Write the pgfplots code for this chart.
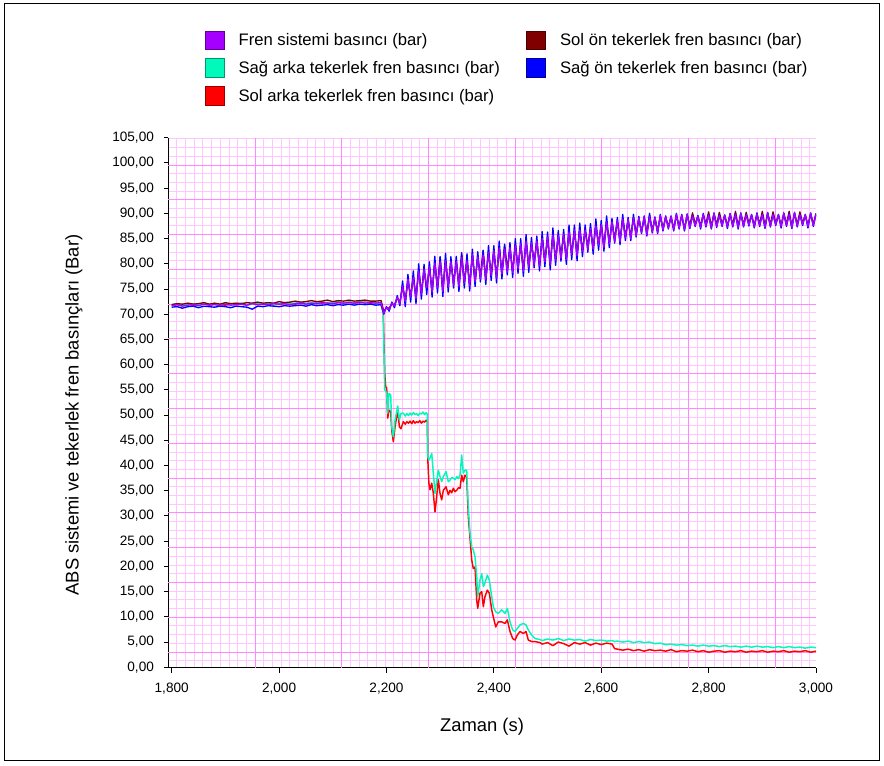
\documentclass[border=0pt]{standalone}
\usepackage{fontspec}
\setmainfont{Liberation Sans}
\usepackage{pgfplots}
\usepackage{pgfplotstable}
\pgfplotsset{compat=1.18}
\definecolor{cPurple}{RGB}{165,0,255}
\definecolor{cDark}{RGB}{128,0,0}
\definecolor{cCyan}{RGB}{0,250,185}
\definecolor{cBlue}{RGB}{0,0,255}
\definecolor{cRed}{RGB}{255,0,0}
\definecolor{gridMinor}{RGB}{255,198,255}
\definecolor{gridMajor}{RGB}{255,135,255}

\pgfplotstableread{
t P U D
1.800 71.7 71.4 71.9
1.810 71.9 71.5 72.1
1.820 71.6 71.2 72.0
1.830 71.8 71.5 72.2
1.840 71.9 71.6 72.0
1.850 71.7 71.3 72.1
1.860 72.0 71.6 72.3
1.870 71.8 71.5 72.0
1.880 71.9 71.4 72.2
1.890 71.7 71.6 72.0
1.900 72.0 71.5 72.3
1.910 71.8 71.3 72.1
1.920 71.9 71.6 72.2
1.930 72.0 71.5 72.1
1.940 71.8 71.4 72.3
1.950 72.1 71.0 72.2
1.960 71.9 71.6 72.4
1.970 72.0 71.5 72.2
1.980 71.9 71.7 72.3
1.990 72.1 71.6 72.2
2.000 72.0 71.5 72.5
2.010 72.1 71.7 72.3
2.020 71.9 71.6 72.4
2.030 72.1 71.7 72.6
2.040 72.2 71.8 72.4
2.050 72.0 71.6 72.5
2.060 72.2 71.9 72.7
2.070 72.1 71.7 72.5
2.080 72.3 71.8 72.6
2.090 72.2 71.9 72.8
2.100 72.1 71.7 72.5
2.110 72.3 71.9 72.7
2.120 72.2 71.8 72.6
2.130 72.3 72.0 72.8
2.140 72.2 71.8 72.6
2.150 72.4 72.0 72.7
2.160 72.2 71.9 72.8
2.170 72.3 72.0 72.6
2.180 72.2 71.8 72.6
2.190 72.3 71.9 72.7
2.195 70.2 70.0 70.6
2.200 71.4 71.5 71.3
2.205 70.9 70.6 71.2
2.210 72.2 72.4 72.0
2.215 71.6 71.3 71.9
2.220 73.4 73.7 73.2
2.225 72.1 71.7 72.4
2.230 75.6 76.6 75.4
2.235 72.5 71.5 72.9
2.240 76.9 77.9 76.5
2.245 73.4 72.4 73.7
2.250 77.3 78.6 77.3
2.255 73.1 72.1 73.5
2.260 78.6 80.0 78.6
2.265 74.0 73.0 74.4
2.270 78.9 79.9 78.6
2.275 75.3 73.9 75.2
2.280 79.4 80.4 79.1
2.285 74.4 73.4 74.8
2.290 80.1 81.5 80.0
2.295 75.2 74.2 75.6
2.300 80.4 81.4 81.3
2.305 74.5 73.5 74.9
2.310 80.6 82.1 80.6
2.315 75.4 74.4 75.8
2.320 80.4 81.4 80.1
2.325 75.8 75.2 76.5
2.330 80.5 81.5 80.2
2.335 75.5 74.5 75.9
2.340 81.2 82.2 82.0
2.345 76.2 75.2 76.5
2.350 80.6 82.0 80.7
2.355 75.6 74.6 76.0
2.360 81.9 82.9 81.5
2.365 76.5 75.5 76.8
2.370 81.4 82.4 81.1
2.375 77.0 76.4 77.7
2.380 81.7 82.7 82.5
2.385 76.9 75.9 77.2
2.390 82.2 83.6 82.2
2.395 77.7 76.7 78.0
2.400 82.6 83.6 82.3
2.405 77.2 76.2 77.6
2.410 83.1 84.5 83.1
2.415 78.0 77.0 78.3
2.420 82.9 83.9 83.6
2.425 78.4 77.8 79.1
2.430 83.2 84.2 82.9
2.435 78.3 77.3 78.6
2.440 83.6 85.0 83.6
2.445 79.1 78.1 79.4
2.450 84.0 85.0 83.7
2.455 78.5 77.5 78.9
2.460 84.4 85.8 84.4
2.465 79.3 78.3 79.6
2.470 84.2 85.2 83.9
2.475 79.8 79.2 80.5
2.480 84.5 85.5 84.2
2.485 79.6 78.6 79.9
2.490 85.0 86.4 85.0
2.495 80.4 79.4 80.7
2.500 85.3 86.3 85.0
2.505 79.8 78.8 80.2
2.510 85.7 87.1 85.7
2.515 80.7 79.7 81.0
2.520 85.6 86.6 85.3
2.525 81.1 80.5 81.8
2.530 85.8 86.8 85.5
2.535 80.9 79.9 81.2
2.540 86.3 87.7 86.3
2.545 81.8 80.8 82.1
2.550 86.7 87.7 86.4
2.555 81.6 80.6 82.0
2.560 86.7 88.1 86.8
2.565 82.4 81.4 82.7
2.570 86.7 87.7 86.5
2.575 82.9 82.3 83.6
2.580 87.0 88.0 86.8
2.585 82.9 81.9 83.2
2.590 87.5 88.9 87.6
2.595 83.7 82.7 84.0
2.600 87.8 88.6 87.6
2.605 83.3 82.5 83.6
2.610 88.3 89.5 88.4
2.615 84.0 83.2 84.3
2.620 88.3 89.0 88.1
2.625 84.4 84.1 85.1
2.630 88.6 89.2 88.4
2.635 84.4 83.8 84.7
2.640 88.9 89.8 89.0
2.645 85.1 84.6 85.4
2.650 88.8 89.2 88.6
2.655 85.0 84.6 85.4
2.660 89.1 89.8 89.2
2.665 85.6 85.3 85.9
2.670 89.1 89.4 88.9
2.675 86.2 86.0 86.4
2.680 89.3 89.5 89.1
2.685 85.8 85.5 86.1
2.690 89.4 90.0 89.6
2.695 86.3 86.1 86.6
2.700 89.1 89.3 89.0
2.705 86.2 86.0 86.5
2.710 89.6 89.8 89.4
2.715 86.7 86.5 87.0
2.720 89.3 89.5 89.2
2.725 87.1 86.9 87.4
2.730 89.4 89.5 89.3
2.735 86.7 86.5 87.0
2.740 89.8 90.0 89.6
2.745 87.1 86.9 87.4
2.750 89.7 89.8 89.5
2.755 86.7 86.5 87.0
2.760 89.8 89.9 89.7
2.765 87.2 87.0 87.6
2.770 89.5 89.6 90.1
2.775 87.6 87.4 87.9
2.780 89.5 89.6 89.4
2.785 87.2 86.9 87.6
2.790 89.8 90.0 89.7
2.795 87.5 87.3 87.9
2.800 89.7 89.8 90.3
2.805 87.1 86.9 87.4
2.810 90.0 90.1 89.9
2.815 87.4 87.2 87.8
2.820 89.6 89.7 90.2
2.825 87.6 87.4 87.9
2.830 89.6 89.7 89.5
2.835 87.3 87.0 87.6
2.840 89.9 90.0 89.8
2.845 87.5 87.3 87.8
2.850 89.8 89.9 90.4
2.855 87.2 86.9 87.5
2.860 90.0 90.1 89.9
2.865 87.5 87.3 87.8
2.870 89.7 89.8 90.2
2.875 87.7 87.5 88.0
2.880 89.7 89.8 89.6
2.885 87.3 87.1 87.6
2.890 89.9 90.1 89.8
2.895 87.6 87.4 87.9
2.900 89.8 89.9 90.4
2.905 87.2 87.0 87.5
2.910 90.1 90.2 90.0
2.915 87.5 87.3 87.8
2.920 89.7 89.8 90.3
2.925 87.8 87.6 88.1
2.930 89.7 89.8 89.6
2.935 87.4 87.1 87.7
2.940 90.0 90.1 89.9
2.945 87.6 87.4 87.9
2.950 89.8 89.9 90.4
2.955 87.2 87.0 87.5
2.960 90.1 90.2 90.0
2.965 87.5 87.3 87.8
2.970 89.7 89.8 90.3
2.975 87.8 87.6 88.1
2.980 89.7 89.8 89.6
2.985 87.4 87.1 87.7
2.990 90.0 90.1 89.9
2.995 87.6 87.4 87.9
3.000 89.8 89.9 90.0
}\tabUp

\pgfplotstableread{
t C R
1.800 71.9 71.8
1.810 72.1 71.9
1.820 71.8 71.7
1.830 72.0 72.0
1.840 72.1 71.8
1.850 71.9 71.9
1.860 72.2 72.1
1.870 71.9 71.8
1.880 72.0 72.0
1.890 71.8 71.9
1.900 72.1 71.8
1.910 71.9 72.0
1.920 72.0 71.9
1.930 72.2 72.0
1.940 71.9 71.8
1.950 72.0 72.1
1.960 72.1 71.9
1.970 71.9 72.0
1.980 72.2 72.1
1.990 72.0 71.9
2.000 72.1 72.0
2.010 72.3 72.1
2.020 72.0 72.2
2.030 72.2 72.0
2.040 72.4 72.3
2.050 72.1 72.1
2.060 72.3 72.2
2.070 72.2 72.4
2.080 72.4 72.2
2.090 72.2 72.3
2.100 72.3 72.1
2.110 72.5 72.3
2.120 72.2 72.2
2.130 72.4 72.4
2.140 72.3 72.2
2.150 72.5 72.3
2.160 72.3 72.4
2.170 72.4 72.2
2.180 72.2 72.3
2.190 72.0 72.0
2.1940 70.3 70.5
2.1967 55.0 58.3
2.1985 54.8 55.6
2.2004 54.3 55.4
2.2023 50.4 49.4
2.2047 54.3 51.0
2.2079 54.0 50.6
2.2098 47.7 47.0
2.2128 45.7 44.7
2.2160 49.0 47.7
2.2210 51.8 51.0
2.2240 49.0 47.7
2.2270 50.3 47.3
2.2314 50.4 48.7
2.2350 49.8 48.2
2.2380 50.3 48.7
2.2410 49.9 48.4
2.2440 50.4 48.8
2.2470 50.0 48.3
2.2500 50.5 48.9
2.2530 50.1 48.4
2.2560 50.3 48.7
2.2590 49.9 48.5
2.2620 50.4 48.9
2.2650 50.2 48.4
2.2680 50.6 48.8
2.2710 50.1 48.6
2.2740 50.5 49.0
2.2760 50.2 48.7
2.2770 41.8 41.1
2.2790 41.1 36.5
2.2811 41.5 35.2
2.2843 42.4 36.5
2.2873 38.5 34.5
2.2904 34.5 30.8
2.2923 36.0 32.6
2.2966 39.1 37.2
2.2997 37.8 34.5
2.3029 36.8 33.2
2.3059 37.8 35.1
2.3109 38.8 35.8
2.3152 36.8 34.2
2.3183 37.1 35.1
2.3215 37.6 34.6
2.3245 37.5 35.5
2.3277 37.2 34.8
2.3308 37.8 35.1
2.3340 37.4 35.6
2.3370 38.1 35.5
2.3401 42.1 38.1
2.3431 38.5 36.8
2.3463 39.1 38.1
2.3494 39.1 37.8
2.3524 31.8 29.9
2.3556 26.6 25.6
2.3588 23.9 21.3
2.3617 23.3 19.6
2.3649 21.9 19.9
2.3681 18.0 13.3
2.3700 14.0 11.7
2.3742 17.3 14.7
2.3774 18.6 15.0
2.3804 16.0 12.0
2.3835 16.7 14.0
2.3878 18.3 15.3
2.3916 17.3 14.7
2.3960 14.0 11.4
2.3990 12.0 10.0
2.4035 11.0 8.0
2.4083 10.7 9.0
2.4146 11.4 9.0
2.4208 10.7 8.7
2.4251 11.7 9.4
2.4301 9.0 7.1
2.4351 7.4 5.7
2.4394 7.1 5.4
2.4437 7.7 6.4
2.4487 8.4 7.1
2.4549 8.7 6.7
2.4599 8.4 7.1
2.4642 7.4 5.4
2.4705 6.4 5.1
2.4767 5.7 5.1
2.4860 5.5 4.9
2.490 5.3 4.6
2.500 5.6 4.9
2.510 5.4 4.3
2.520 5.7 5.0
2.530 5.3 4.7
2.540 5.6 4.2
2.550 5.4 4.9
2.560 5.5 4.6
2.570 5.2 4.9
2.580 5.5 4.4
2.590 5.3 4.8
2.600 5.4 4.5
2.610 5.2 4.8
2.620 5.3 4.6
2.625 5.1 3.7
2.630 5.2 3.6
2.640 5.0 3.4
2.650 5.2 3.6
2.660 4.9 3.3
2.670 5.1 3.5
2.680 4.9 3.2
2.690 5.0 3.5
2.700 4.7 3.3
2.710 4.8 3.4
2.720 4.5 3.2
2.730 4.6 3.5
2.740 4.4 3.1
2.750 4.5 3.3
2.760 4.3 3.2
2.770 4.4 3.4
2.780 4.2 3.1
2.790 4.4 3.3
2.800 4.2 3.0
2.810 4.3 3.2
2.820 4.1 3.3
2.830 4.3 3.0
2.840 4.1 3.2
2.850 4.2 3.1
2.860 4.0 3.3
2.870 4.2 3.0
2.880 4.0 3.2
2.890 4.2 3.1
2.900 4.0 3.3
2.910 4.1 3.0
2.920 3.9 3.2
2.930 4.1 3.1
2.940 3.9 3.3
2.950 4.1 3.0
2.960 3.9 3.2
2.970 4.0 3.1
2.980 3.8 3.3
2.990 4.0 3.0
3.000 3.9 3.2
}\tabLo

\begin{document}
\begin{tikzpicture}
\useasboundingbox (0,0) rectangle (663pt,573.75pt);
\fill[white] (0,0) rectangle (663pt,573.75pt);
\draw[black, line width=0.75pt] (3pt,3.75pt) rectangle (659.25pt,570.75pt);
\begin{axis}[
  at={(126.225pt,72.975pt)}, anchor=south west,
  scale only axis, width=485.775pt, height=397.5pt,
  xmin=1.79367, xmax=3.0, ymin=-0.08, ymax=105,
  axis x line*=bottom, axis y line*=left,
  axis line style={line width=1.1pt, black, -},
  xtick={1.8,2.0,2.2,2.4,2.6,2.8,3.0},
  ytick={0,5,...,105},
  minor xtick={1.79367,1.80982,...,3.0},
  minor ytick={1.309,3.033,...,105},
  xminorgrids=true, yminorgrids=true,
  xmajorgrids=false, ymajorgrids=false,
  minor grid style={draw=gridMinor, line width=0.75pt},
  major grid style={draw=gridMajor, line width=0.75pt},
  extra x ticks={1.95515,2.11663,2.27811,2.43959,2.60107,2.76255,2.92403},
  extra y ticks={3.033,9.929,16.826,23.722,30.618,37.515,44.411,51.307,58.204,65.100,71.996,78.893,85.789,92.685,99.582},
  extra x tick style={xmajorgrids=true, major tick length=0pt, xticklabel={}},
  extra y tick style={ymajorgrids=true, major tick length=0pt, yticklabel={}},
  minor tick length=0pt,
  major tick length=3.6pt,
  tick align=outside,
  tick style={black, line width=0.75pt},
  scaled ticks=false,
  /pgf/number format/assume math mode=true,
  tick label style={font=\fontsize{10.2}{12}\selectfont},
  xticklabel style={inner sep=0pt, yshift=-8pt, /pgf/number format/.cd, fixed, fixed zerofill, precision=3, use comma},
  yticklabel style={inner sep=0pt, xshift=-7pt, /pgf/number format/.cd, fixed, fixed zerofill, precision=2, use comma},
  every axis x label/.style={at={(axis description cs:0.4843,-0.1119)}, anchor=center, font=\fontsize{13.8}{16}\selectfont},
  every axis y label/.style={at={(axis description cs:-0.1456,0.4768)}, anchor=center, rotate=90, font=\fontsize{13.8}{16}\selectfont},
  xlabel={Zaman (s)},
  ylabel={ABS sistemi ve tekerlek fren basınçları (Bar)},
  legend columns=2,
  legend cell align=left,
  legend style={at={(axis description cs:0.05666,1.20226)}, anchor=north west, draw=none, fill=none,
    inner sep=0pt, outer sep=0pt, font=\fontsize{12.5}{15}\selectfont,
    column sep=0pt, row sep=6pt,
    /tikz/every odd column/.append style={column sep=8.25pt},
    /tikz/every even column/.append style={column sep=18pt}},
]
\addlegendimage{legend image code/.code={\draw[fill=cPurple,draw=cPurple!60!black,line width=0.75pt] (0pt,-7.1pt) rectangle (14.2pt,7.1pt);}}
\addlegendentry{Fren sistemi basıncı (bar)}
\addlegendimage{legend image code/.code={\draw[fill=cDark,draw=cDark!60!black,line width=0.75pt] (0pt,-7.1pt) rectangle (14.2pt,7.1pt);}}
\addlegendentry{Sol ön tekerlek fren basıncı (bar)}
\addlegendimage{legend image code/.code={\draw[fill=cCyan,draw=cCyan!60!black,line width=0.75pt] (0pt,-7.1pt) rectangle (14.2pt,7.1pt);}}
\addlegendentry{Sağ arka tekerlek fren basıncı (bar)}
\addlegendimage{legend image code/.code={\draw[fill=cBlue,draw=cBlue!60!black,line width=0.75pt] (0pt,-7.1pt) rectangle (14.2pt,7.1pt);}}
\addlegendentry{Sağ ön tekerlek fren basıncı (bar)}
\addlegendimage{legend image code/.code={\draw[fill=cRed,draw=cRed!60!black,line width=0.75pt] (0pt,-7.1pt) rectangle (14.2pt,7.1pt);}}
\addlegendentry{Sol arka tekerlek fren basıncı (bar)}

\addplot[forget plot, cRed, line width=1.1pt, line join=round] table[x=t,y=R]{\tabLo};
\addplot[forget plot, cCyan, line width=1.1pt, line join=round] table[x=t,y=C]{\tabLo};
\addplot[forget plot, cDark, line width=1pt, line join=round] table[x=t,y=D]{\tabUp};
\addplot[forget plot, cBlue, line width=1pt, line join=round] table[x=t,y=U]{\tabUp};
\addplot[forget plot, cPurple, line width=1pt, line join=round] table[x=t,y=P]{\tabUp};
\end{axis}
\end{tikzpicture}
\end{document}
